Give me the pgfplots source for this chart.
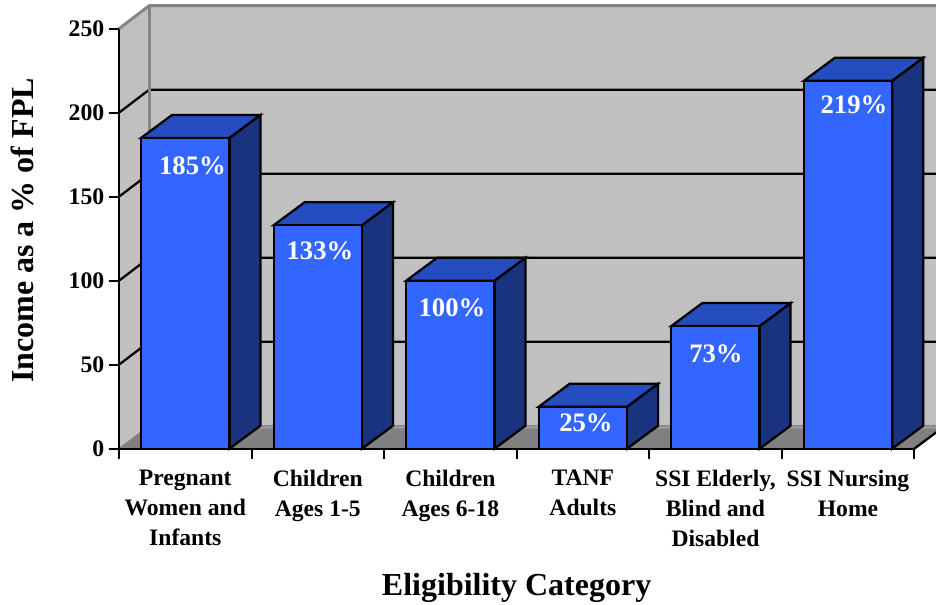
\documentclass[border=0pt]{standalone}
\usepackage{pgfplots}
\pgfplotsset{compat=1.18}
\usepackage{fontspec}
\setmainfont{Liberation Serif}
\definecolor{wallgrey}{HTML}{C0C0C0}
\definecolor{floorgrey}{HTML}{808080}
\definecolor{edgegrey}{HTML}{858585}
\definecolor{bandgrey}{HTML}{9A9A9A}
\definecolor{barfront}{HTML}{3366FF}
\definecolor{bartop}{HTML}{264DBF}
\definecolor{barside}{HTML}{1A337F}
\begin{document}
\begin{tikzpicture}
\clip (-89.25pt,-116.475pt) rectangle (612.75pt,336.525pt);
\begin{axis}[
  scale only axis,
  width=596.46pt, height=315pt,
  xmin=0, xmax=6, ymin=0, ymax=250,
  clip=false,
  axis on top,
  axis x line*=bottom,
  axis y line*=left,
  axis line style={-, line width=1.7pt, black},
  tick style={line width=1.5pt, black},
  tick align=outside,
  major tick length=7.5pt,
  xtick={0,1,2,3,4,5,6},
  xticklabels={},
  ytick={0,50,100,150,200,250},
  /pgf/number format/assume math mode=true,
  y tick label style={font=\fontsize{17.8}{20}\selectfont\bfseries, yshift=-0.2pt},
  extra x ticks={0.5,1.5,2.5,3.5,4.5,5.5},
  extra x tick labels={Pregnant\\Women and\\Infants,Children\\Ages 1-5,Children\\Ages 6-18,TANF\\Adults,{SSI Elderly,\\Blind and\\Disabled},SSI Nursing\\Home},
  extra x tick style={major tick length=0pt, tick style={draw=none},
    tick label style={font=\fontsize{17.7}{22.5}\selectfont\bfseries, align=center, anchor=north, yshift=-12.5pt}},
  xlabel={Eligibility Category},
  ylabel={Income as a \% of FPL},
  xlabel style={at={(axis description cs:0.5,0)}, anchor=center, yshift=-104.5pt, font=\fontsize{24}{28}\selectfont\bfseries},
  ylabel style={at={(axis description cs:-0.1215,0.52)}, anchor=center, font=\fontsize{24}{28}\selectfont\bfseries},
]
% walls and floor of the box
\addplot[fill=wallgrey, draw=none] coordinates {(0,0) (0,250) (0.228,263.7) (0.228,13.7)} -- cycle;
\addplot[fill=wallgrey, draw=none] coordinates {(0.228,13.7) (0.228,263.7) (6.3,263.7) (6.3,13.7)} -- cycle;
\addplot[fill=floorgrey, draw=none] coordinates {(0,0) (6,0) (6.234,13.7) (0.228,13.7)} -- cycle;
\addplot[fill=bandgrey, draw=none] coordinates {(0,0) (0.228,13.7) (6.3,13.7) (6.3,12) (0.205,12)} -- cycle;
% gridlines on the side wall and the back wall
\addplot[black, line width=1.7pt] coordinates {(0,50) (0.228,63.7) (6.3,63.7)};
\addplot[black, line width=1.7pt] coordinates {(0,100) (0.228,113.7) (6.3,113.7)};
\addplot[black, line width=1.7pt] coordinates {(0,150) (0.228,163.7) (6.3,163.7)};
\addplot[black, line width=1.7pt] coordinates {(0,200) (0.228,213.7) (6.3,213.7)};
% grey box edges
\addplot[edgegrey, line width=2.2pt] coordinates {(0,250) (0.228,263.7) (6.3,263.7)};
\addplot[edgegrey, line width=2.2pt] coordinates {(0.228,263.7) (0.228,13.7)};
\addplot[floorgrey, line width=0.7pt] coordinates {(0,0) (0.228,13.7) (6.3,13.7)};
\addplot[black, line width=1.7pt] coordinates {(6,0) (6.234,13.7)};
% right-hand sides of the bars
\addplot[fill=barside, draw=black, line width=1.7pt] coordinates {(0.833,0) (1.067,13.7) (1.067,198.7) (0.833,185)} -- cycle;
\addplot[fill=barside, draw=black, line width=1.7pt] coordinates {(1.833,0) (2.067,13.7) (2.067,146.7) (1.833,133)} -- cycle;
\addplot[fill=barside, draw=black, line width=1.7pt] coordinates {(2.833,0) (3.067,13.7) (3.067,113.7) (2.833,100)} -- cycle;
\addplot[fill=barside, draw=black, line width=1.7pt] coordinates {(3.833,0) (4.067,13.7) (4.067,38.7) (3.833,25)} -- cycle;
\addplot[fill=barside, draw=black, line width=1.7pt] coordinates {(4.833,0) (5.067,13.7) (5.067,86.7) (4.833,73)} -- cycle;
\addplot[fill=barside, draw=black, line width=1.7pt] coordinates {(5.833,0) (6.067,13.7) (6.067,232.7) (5.833,219)} -- cycle;
% tops of the bars
\addplot[fill=bartop, draw=black, line width=1.7pt] coordinates {(0.167,185) (0.833,185) (1.067,198.7) (0.401,198.7)} -- cycle;
\addplot[fill=bartop, draw=black, line width=1.7pt] coordinates {(1.167,133) (1.833,133) (2.067,146.7) (1.401,146.7)} -- cycle;
\addplot[fill=bartop, draw=black, line width=1.7pt] coordinates {(2.167,100) (2.833,100) (3.067,113.7) (2.401,113.7)} -- cycle;
\addplot[fill=bartop, draw=black, line width=1.7pt] coordinates {(3.167,25) (3.833,25) (4.067,38.7) (3.401,38.7)} -- cycle;
\addplot[fill=bartop, draw=black, line width=1.7pt] coordinates {(4.167,73) (4.833,73) (5.067,86.7) (4.401,86.7)} -- cycle;
\addplot[fill=bartop, draw=black, line width=1.7pt] coordinates {(5.167,219) (5.833,219) (6.067,232.7) (5.401,232.7)} -- cycle;
% front faces of the bars
\addplot[ybar, bar shift=0pt, bar width=0.666, fill=barfront, draw=black, line width=1.7pt]
  coordinates {(0.5,185) (1.5,133) (2.5,100) (3.5,25) (4.5,73) (5.5,219)};
% value labels on the front faces
\addplot[draw=none, point meta=explicit symbolic, nodes near coords,
  every node near coord/.append style={anchor=center, text=white, inner sep=0pt,
    font=\fontsize{20}{22}\selectfont\bfseries}]
  table[meta=label, row sep=\\] {
    x y label\\
    0.554 168.5 185\%\\
    1.516 117.9 133\%\\
    2.512 84 100\%\\
    3.523 15.5 25\%\\
    4.504 56.5 73\%\\
    5.545 204.8 219\%\\
  };
\end{axis}
\end{tikzpicture}
\end{document}
